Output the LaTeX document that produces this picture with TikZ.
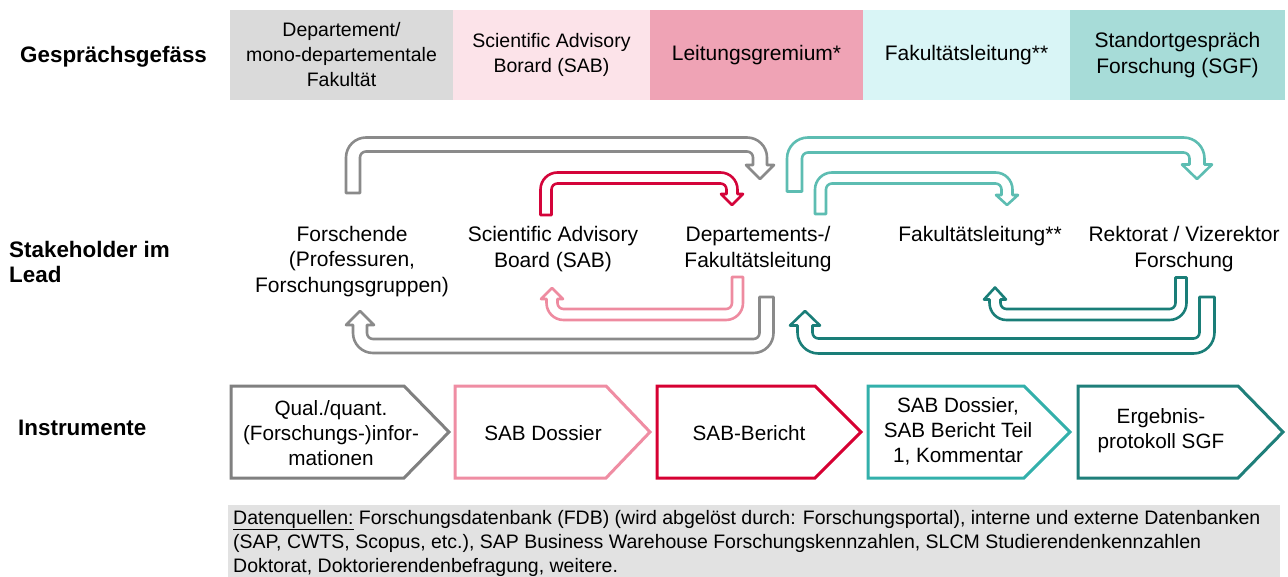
\documentclass[tikz,border=0pt]{standalone}
\usepackage{fontspec}
\setmainfont{Liberation Sans}
\definecolor{hdrgray}{HTML}{DADADA}
\definecolor{hdrpink}{HTML}{FCE3E9}
\definecolor{hdrred}{HTML}{EFA3B5}
\definecolor{hdrcyan}{HTML}{D9F5F6}
\definecolor{hdrteal}{HTML}{A7DCD8}
\definecolor{footgray}{HTML}{E2E2E2}
\definecolor{agray}{HTML}{8A8A8A}
\definecolor{ared}{HTML}{D4043A}
\definecolor{apink}{HTML}{EE8BA0}
\definecolor{ateal}{HTML}{5DBDB2}
\definecolor{adteal}{HTML}{1A7E78}
\definecolor{cgray}{HTML}{808080}
\definecolor{cpink}{HTML}{EF8DA3}
\definecolor{cred}{HTML}{D60032}
\definecolor{ccyan}{HTML}{33B0AB}
\definecolor{cdteal}{HTML}{1F7F7A}
\newcommand\normtext{\fontsize{19.5}{25}\selectfont}
\newcommand\bigtext{\fontsize{21}{25.5}\selectfont}
\newcommand\insttext{\fontsize{20.7}{25}\selectfont}
\newcommand\labeltext{\fontsize{22.4}{25}\selectfont\bfseries}
\newcommand\foottext{\fontsize{19.5}{24}\selectfont}
\tikzset{
  every node/.style={inner sep=0pt, font=\normtext},
  hdr/.style={minimum height=90, align=center},
  lbl/.style={font=\labeltext, align=left, anchor=west},
  stk/.style={align=center, font=\bigtext},
  inst/.style={align=center, font=\insttext},
  arrline/.style={line width=2.6, fill=white, line join=round},
  chev/.style={line width=3, fill=white, line join=miter},
}
\newcommand\TopArrow[8]{%
  \pgfmathsetmacro\aw{#8}%
  \pgfmathsetmacro\ahw{2*#8}%
  \pgfmathsetmacro\aRi{6}%
  \pgfmathsetmacro\aRo{2*#8+6}%
  \draw[arrline, draw=#1] (#2-\aw,#3) -- (#2-\aw,#4-\aw+\aRo)
    arc[start angle=180, end angle=270, radius=\aRo]
    -- (#5+\aw-\aRo,#4-\aw)
    arc[start angle=270, end angle=360, radius=\aRo]
    -- (#5+\aw,#6) -- (#5+\ahw,#6) -- (#5,#7) -- (#5-\ahw,#6) -- (#5-\aw,#6)
    -- (#5-\aw,#4+\aw+\aRi)
    arc[start angle=0, end angle=-90, radius=\aRi]
    -- (#2+\aw+\aRi,#4+\aw)
    arc[start angle=270, end angle=180, radius=\aRi]
    -- (#2+\aw,#3) -- cycle;}
\newcommand\BotArrow[8]{%
  \pgfmathsetmacro\aw{#8}%
  \pgfmathsetmacro\ahw{2*#8}%
  \pgfmathsetmacro\aRi{6}%
  \pgfmathsetmacro\aRo{2*#8+6}%
  \draw[arrline, draw=#1] (#2+\aw,#3) -- (#2+\aw,#4+\aw-\aRo)
    arc[start angle=0, end angle=90, radius=\aRo]
    -- (#5-\aw+\aRo,#4+\aw)
    arc[start angle=90, end angle=180, radius=\aRo]
    -- (#5-\aw,#6) -- (#5-\ahw,#6) -- (#5,#7) -- (#5+\ahw,#6) -- (#5+\aw,#6)
    -- (#5+\aw,#4-\aw-\aRi)
    arc[start angle=180, end angle=90, radius=\aRi]
    -- (#2-\aw-\aRi,#4-\aw)
    arc[start angle=90, end angle=0, radius=\aRi]
    -- (#2-\aw,#3) -- cycle;}
\begin{document}
\begin{tikzpicture}[x=1pt, y=-1pt]
\useasboundingbox (0,0) rectangle (1288,577);
% header row
\node[hdr, fill=hdrgray, minimum width=223] (g1) at (341.5,55) {Departement/\\mono-departementale\\Fakultät};
\node[hdr, fill=hdrpink, minimum width=197] (g2) at (551.5,55) {Scientific Advisory\\Borard (SAB)};
\node[hdr, fill=hdrred, minimum width=213, font=\bigtext] (g3) at (756.5,55) {Leitungsgremium*};
\node[hdr, fill=hdrcyan, minimum width=207, font=\bigtext] (g4) at (966.5,55) {Fakultätsleitung**};
\node[hdr, fill=hdrteal, minimum width=215, font=\bigtext] (g5) at (1177.5,55) {Standortgespräch\\Forschung (SGF)};
% row labels
\node[lbl] (lg) at (20,57) {Gesprächsgefäss};
\node[lbl] (ls) at (9,262) {Stakeholder im\\Lead};
\node[lbl] (li) at (18,428) {Instrumente};
% block arrows
\TopArrow{agray}{353}{193}{144.5}{760}{165}{179}{7}
\TopArrow{ared}{546}{215}{178}{732}{194}{205}{5.5}
\TopArrow{ateal}{794.5}{191.5}{145}{1197}{164.5}{179}{7.5}
\TopArrow{ateal}{820.5}{214}{178}{1007}{195}{205}{5.5}
\BotArrow{apink}{737.5}{277}{314.5}{552}{299}{288}{5.5}
\BotArrow{agray}{766.5}{297}{346}{360}{325}{311}{7}
\BotArrow{adteal}{1181}{277.5}{314.5}{995}{299.5}{287.5}{5.5}
\BotArrow{adteal}{1207}{297}{346}{805}{325.5}{311}{7.5}
% stakeholders
\node[stk] (s1) at (352,261.5) {Forschende\\(Professuren,\\Forschungsgruppen)};
\node[stk] (s2) at (553,249) {Scientific Advisory\\Board (SAB)};
\node[stk] (s3) at (758,249) {Departements-/\\Fakultätsleitung};
\node[stk] (s4) at (980,236) {Fakultätsleitung**};
\node[stk] (s5) at (1184,249) {Rektorat / Vizerektor\\Forschung};
% instruments
\draw[chev, draw=cgray] (231,386) -- (404,386) -- (449,432) -- (404,478) -- (231,478) -- cycle;
\draw[chev, draw=cpink] (455,386) -- (606,386) -- (650,432) -- (606,478) -- (455,478) -- cycle;
\draw[chev, draw=cred] (657,386) -- (815,386) -- (861,432) -- (815,478) -- (657,478) -- cycle;
\draw[chev, draw=ccyan] (868,386) -- (1024,386) -- (1070,432) -- (1024,478) -- (868,478) -- cycle;
\draw[chev, draw=cdteal] (1078,386) -- (1238,386) -- (1283,432) -- (1238,478) -- (1078,478) -- cycle;
\node[inst] (i1) at (331,433) {Qual./quant.\\(Forschungs-)infor-\\mationen};
\node[inst] (i2) at (543,433) {SAB Dossier};
\node[inst] (i3) at (749,433) {SAB-Bericht};
\node[inst] (i4) at (958,431) {SAB Dossier,\\SAB Bericht Teil\\1, Kommentar};
\node[inst] (i5) at (1161,431) {Ergebnis-\\protokoll SGF};
% footer
\node[fill=footgray, minimum width=1052, minimum height=72, anchor=north west] (fb) at (228,505) {};
\node[font=\foottext, align=left, anchor=west] (ft) at (233,543) {\underline{Datenquellen:} Forschungsdatenbank (FDB) (wird abgelöst durch: Forschungsportal), interne und externe Datenbanken\\(SAP, CWTS, Scopus, etc.), SAP Business Warehouse Forschungskennzahlen, SLCM Studierendenkennzahlen\\Doktorat, Doktorierendenbefragung, weitere.};
\end{tikzpicture}
\end{document}
